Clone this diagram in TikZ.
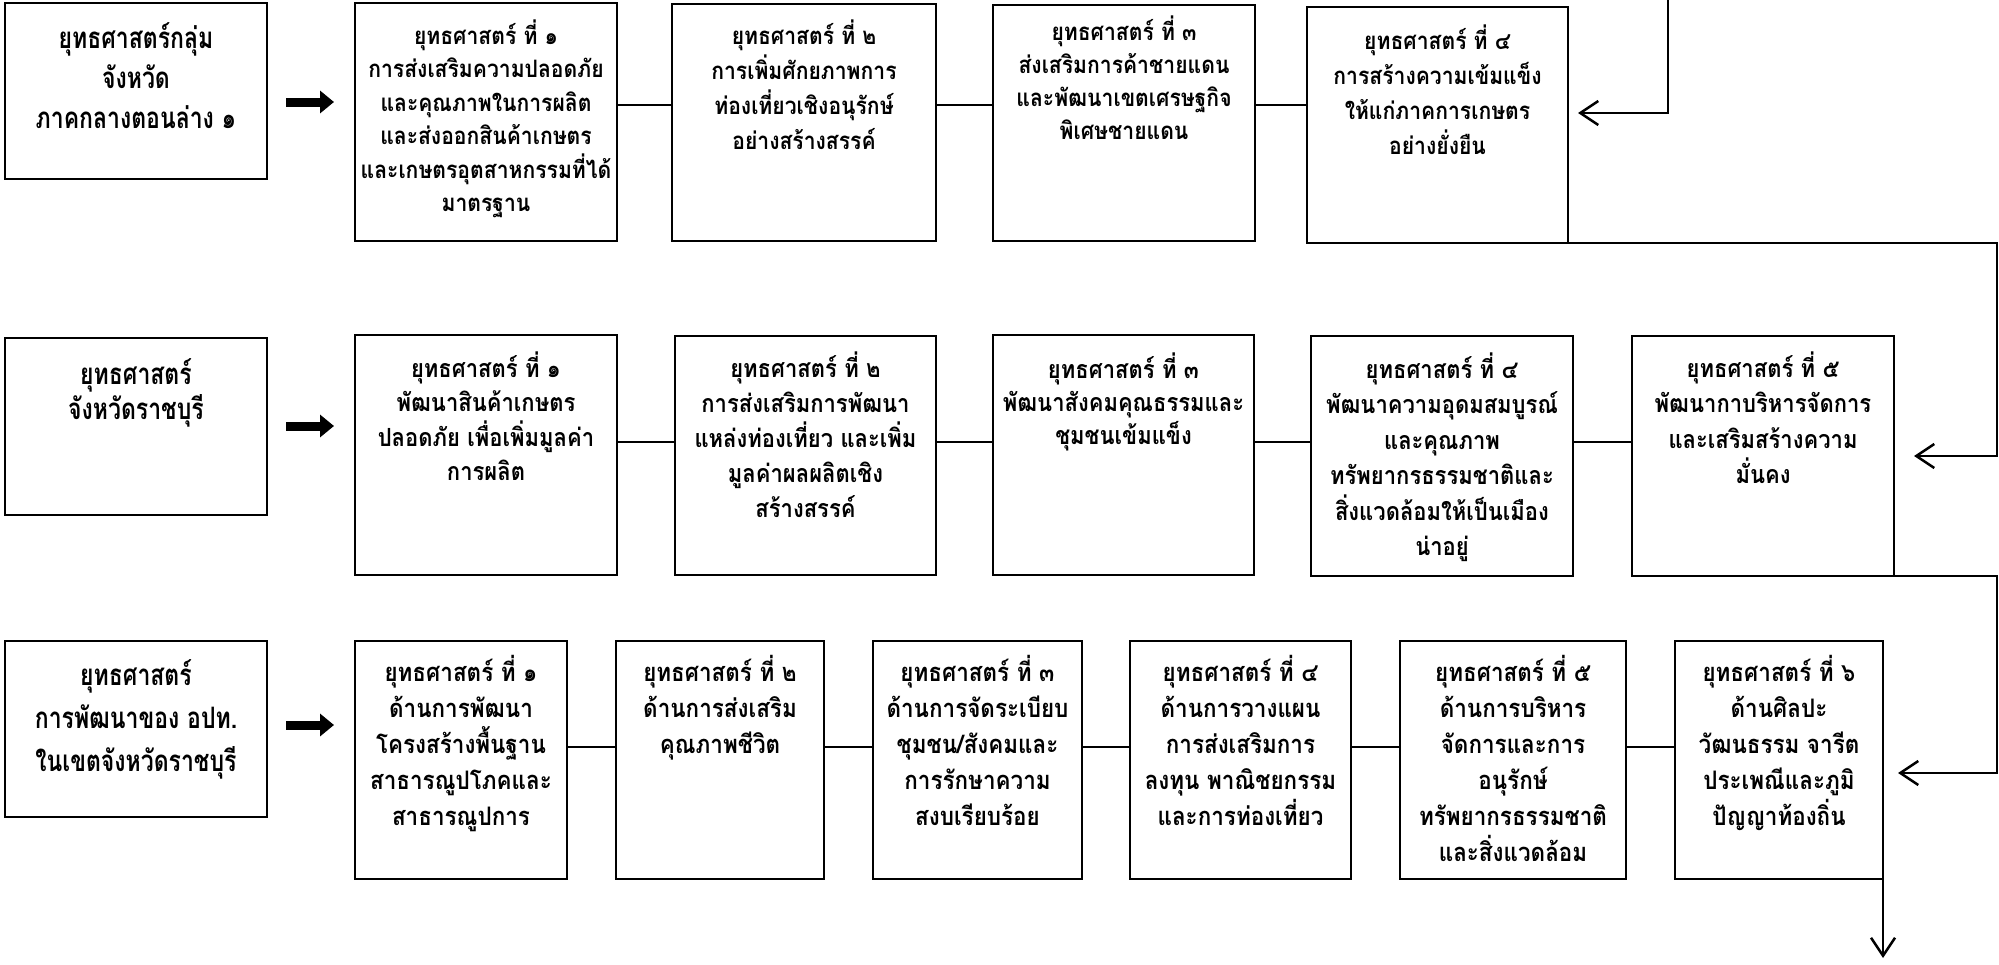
\documentclass[tikz,border=0pt]{standalone}
\usepackage{fontspec}
\newfontfamily\thaiA[Script=Thai,FakeStretch=0.88]{Loma}
\newfontfamily\thaiT[Script=Thai,FakeStretch=0.78]{Loma}
\usetikzlibrary{arrows.meta}
\newcommand{\bxt}[7][\thaiA]{\parbox[c][#3][t]{#2}{\centering#1\bfseries\fontsize{#6}{#5}\selectfont\rule{0pt}{#4}#7\par}}
\tikzset{
  sbox/.style={draw, line width=2pt, inner sep=0pt, outer sep=0pt, anchor=north west},
  tbox/.style={draw, line width=2.6pt, inner sep=0pt, outer sep=0pt, anchor=north west},
  link/.style={line width=2pt},
  ret/.style={line width=2.5pt, -{Straight Barb[length=18pt,width=24pt]}},
  fat/.style={line width=9pt, -{Triangle[length=14pt,width=22pt]}},
}
\begin{document}
\begin{tikzpicture}[x=1pt,y=-1pt]
\useasboundingbox[fill=white] (0,0) rectangle (1999,964);
% ---------- row 1
\node[tbox] (L1) at (5,3) {\bxt[\thaiT]{262pt}{176pt}{45pt}{40pt}{29.5pt}{ยุทธศาสตร์กลุ่ม\\จังหวัด\\ภาคกลางตอนล่าง ๑}};
\node[sbox] (B1) at (355,3) {\bxt{262pt}{238pt}{41pt}{33.5pt}{24pt}{ยุทธศาสตร์ ที่ ๑\\การส่งเสริมความปลอดภัย\\และคุณภาพในการผลิต\\และส่งออกสินค้าเกษตร\\และเกษตรอุตสาหกรรมที่ได้\\มาตรฐาน}};
\node[sbox] (B2) at (672,4) {\bxt{264pt}{237pt}{40pt}{35pt}{24pt}{ยุทธศาสตร์ ที่ ๒\\การเพิ่มศักยภาพการ\\ท่องเที่ยวเชิงอนุรักษ์\\อย่างสร้างสรรค์}};
\node[sbox] (B3) at (993,5) {\bxt{262pt}{236pt}{35pt}{33pt}{24pt}{ยุทธศาสตร์ ที่ ๓\\ส่งเสริมการค้าชายแดน\\และพัฒนาเขตเศรษฐกิจ\\พิเศษชายแดน}};
\node[sbox] (B4) at (1307,7) {\bxt{261pt}{236pt}{42pt}{35pt}{24pt}{ยุทธศาสตร์ ที่ ๔\\การสร้างความเข้มแข็ง\\ให้แก่ภาคการเกษตร\\อย่างยั่งยืน}};
% ---------- row 2
\node[tbox] (L2) at (5,338) {\bxt[\thaiT]{262pt}{177pt}{46.5pt}{35pt}{29.5pt}{ยุทธศาสตร์\\จังหวัดราชบุรี}};
\node[sbox] (C1) at (355,335) {\bxt{262pt}{240pt}{42pt}{34.5pt}{25pt}{ยุทธศาสตร์ ที่ ๑\\พัฒนาสินค้าเกษตร\\ปลอดภัย เพื่อเพิ่มมูลค่า\\การผลิต}};
\node[sbox] (C2) at (675,336) {\bxt{261pt}{239pt}{41pt}{35pt}{25pt}{ยุทธศาสตร์ ที่ ๒\\การส่งเสริมการพัฒนา\\แหล่งท่องเที่ยว และเพิ่ม\\มูลค่าผลผลิตเชิง\\สร้างสรรค์}};
\node[sbox] (C3) at (993,335) {\bxt{261pt}{240pt}{43.5pt}{33pt}{25pt}{ยุทธศาสตร์ ที่ ๓\\พัฒนาสังคมคุณธรรมและ\\ชุมชนเข้มแข็ง}};
\node[sbox] (C4) at (1311,336) {\bxt{262pt}{240pt}{42pt}{35.5pt}{25pt}{ยุทธศาสตร์ ที่ ๔\\พัฒนาความอุดมสมบูรณ์\\และคุณภาพ\\ทรัพยากรธรรมชาติและ\\สิ่งแวดล้อมให้เป็นเมือง\\น่าอยู่}};
\node[sbox] (C5) at (1632,336) {\bxt{262pt}{240pt}{41pt}{35.5pt}{25pt}{ยุทธศาสตร์ ที่ ๕\\พัฒนากาบริหารจัดการ\\และเสริมสร้างความ\\มั่นคง}};
% ---------- row 3
\node[tbox] (L3) at (5,641) {\bxt[\thaiT]{262pt}{176pt}{44.5pt}{43pt}{29.5pt}{ยุทธศาสตร์\\การพัฒนาของ อปท.\\ในเขตจังหวัดราชบุรี}};
\node[sbox] (D1) at (355,641) {\bxt{212pt}{238pt}{40pt}{36pt}{25.5pt}{ยุทธศาสตร์ ที่ ๑\\ด้านการพัฒนา\\โครงสร้างพื้นฐาน\\สาธารณูปโภคและ\\สาธารณูปการ}};
\node[sbox] (D2) at (616,641) {\bxt{208pt}{238pt}{40pt}{36pt}{25.5pt}{ยุทธศาสตร์ ที่ ๒\\ด้านการส่งเสริม\\คุณภาพชีวิต}};
\node[sbox] (D3) at (873,641) {\bxt{209pt}{238pt}{40pt}{36pt}{25.5pt}{ยุทธศาสตร์ ที่ ๓\\ด้านการจัดระเบียบ\\ชุมชน/สังคมและ\\การรักษาความ\\สงบเรียบร้อย}};
\node[sbox] (D4) at (1130,641) {\bxt{221pt}{238pt}{40pt}{36pt}{25.5pt}{ยุทธศาสตร์ ที่ ๔\\ด้านการวางแผน\\การส่งเสริมการ\\ลงทุน พาณิชยกรรม\\และการท่องเที่ยว}};
\node[sbox] (D5) at (1400,641) {\bxt{226pt}{238pt}{40pt}{36pt}{25.5pt}{ยุทธศาสตร์ ที่ ๕\\ด้านการบริหาร\\จัดการและการ\\อนุรักษ์\\ทรัพยากรธรรมชาติ\\และสิ่งแวดล้อม}};
\node[sbox] (D6) at (1675,641) {\bxt{208pt}{238pt}{40pt}{36pt}{25.5pt}{ยุทธศาสตร์ ที่ ๖\\ด้านศิลปะ\\วัฒนธรรม จารีต\\ประเพณีและภูมิ\\ปัญญาท้องถิ่น}};
% ---------- fat arrows
\coordinate (f1a) at (286,102); \coordinate (f1b) at (334,102);
\coordinate (f2a) at (286,426); \coordinate (f2b) at (334,426);
\coordinate (f3a) at (286,725); \coordinate (f3b) at (334,725);
\draw[fat] (f1a) -- (f1b);
\draw[fat] (f2a) -- (f2b);
\draw[fat] (f3a) -- (f3b);
% ---------- links
\coordinate (r1) at (0,105);
\coordinate (r2) at (0,442);
\coordinate (r3) at (0,747);
\draw[link] (B1.east |- r1) -- (B2.west |- r1);
\draw[link] (B2.east |- r1) -- (B3.west |- r1);
\draw[link] (B3.east |- r1) -- (B4.west |- r1);
\draw[link] (C1.east |- r2) -- (C2.west |- r2);
\draw[link] (C2.east |- r2) -- (C3.west |- r2);
\draw[link] (C3.east |- r2) -- (C4.west |- r2);
\draw[link] (C4.east |- r2) -- (C5.west |- r2);
\draw[link] (D1.east |- r3) -- (D2.west |- r3);
\draw[link] (D2.east |- r3) -- (D3.west |- r3);
\draw[link] (D3.east |- r3) -- (D4.west |- r3);
\draw[link] (D4.east |- r3) -- (D5.west |- r3);
\draw[link] (D5.east |- r3) -- (D6.west |- r3);
% ---------- return lines
\coordinate (top1) at (1668,0);
\coordinate (rail) at (1997,0);
\coordinate (bot) at (1883,958);
\draw[ret] (top1) |- ([xshift=10pt,yshift=12pt]B4.east);
\draw[ret] (B4.south east) -- (B4.south east -| rail) |- ([xshift=20pt]C5.east);
\draw[ret] (C5.south east) -- (C5.south east -| rail) |- ([xshift=15pt,yshift=-13pt]D6.east);
\draw[ret] (D6.south east) -- (bot);
\end{tikzpicture}
\end{document}
